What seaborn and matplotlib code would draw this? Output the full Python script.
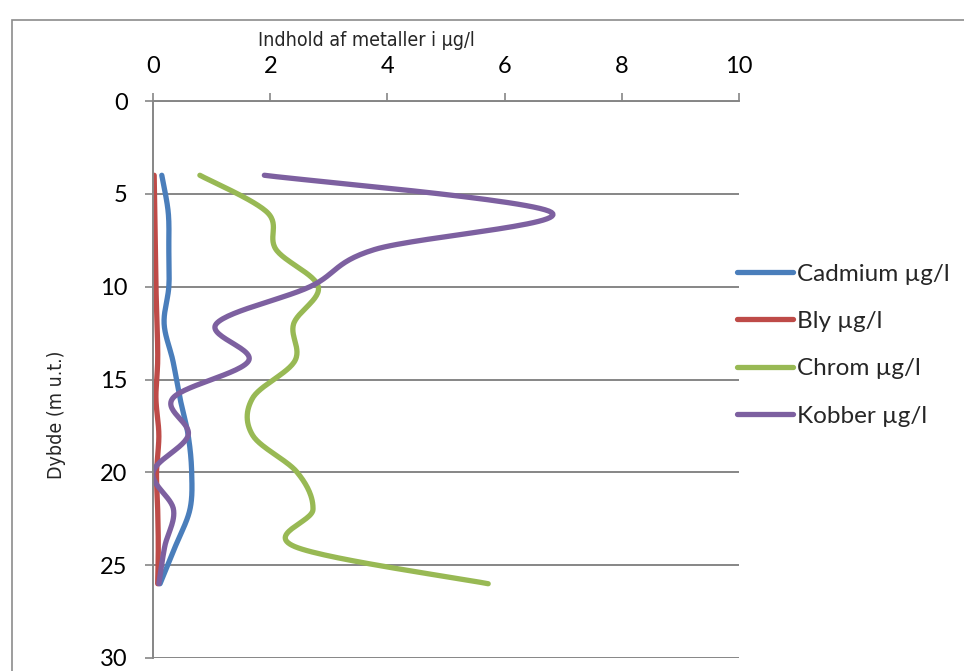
import numpy as np
import pandas as pd
import matplotlib
matplotlib.use("Agg")
import matplotlib.pyplot as plt
import seaborn as sns
from matplotlib.patches import Rectangle
from matplotlib import font_manager

# Depths (m u.t.) and metal contents (µg/l)
depth = [4, 6, 8, 10, 12, 14, 16, 18, 20, 22, 24, 26]
cadmium = [0.15, 0.26, 0.27, 0.27, 0.19, 0.34, 0.46, 0.60, 0.66, 0.63, 0.38, 0.12]
bly = [0.02, 0.03, 0.04, 0.05, 0.07, 0.08, 0.05, 0.10, 0.06, 0.08, 0.09, 0.08]
chrom = [0.80, 1.95, 2.10, 2.82, 2.40, 2.42, 1.70, 1.70, 2.46, 2.73, 2.42, 5.72]
kobber = [1.90, 6.80, 3.78, 2.68, 1.08, 1.63, 0.34, 0.60, 0.00, 0.35, 0.20, 0.10]

series = ["Cadmium µg/l", "Bly µg/l", "Chrom µg/l", "Kobber µg/l"]
colors = ["#4A7EBB", "#BE4B48", "#98B954", "#7D60A0"]


def smooth(xs, ys, n=30):
    # Excel-like smoothed line: Catmull-Rom bezier through the points
    p = np.column_stack([xs, ys]).astype(float)
    p = np.vstack([p[0], p, p[-1]])
    out = []
    t = np.linspace(0, 1, n)[:, None]
    for i in range(1, len(p) - 2):
        a, b = p[i], p[i + 1]
        c1 = a + (p[i + 1] - p[i - 1]) / 6
        c2 = b - (p[i + 2] - p[i]) / 6
        seg = ((1 - t) ** 3) * a + 3 * ((1 - t) ** 2) * t * c1 + 3 * (1 - t) * t ** 2 * c2 + t ** 3 * b
        out.append(seg if i == 1 else seg[1:])
    return np.vstack(out)


frames = []
for name, vals in zip(series, [cadmium, bly, chrom, kobber]):
    s = smooth(vals, depth)
    frames.append(pd.DataFrame({"x": s[:, 0], "y": s[:, 1], "serie": name}))
df = pd.concat(frames, ignore_index=True)

sns.set_theme(style="white")
plt.rcParams["font.family"] = ["DejaVu Sans"]

# narrow font for the axis titles if one is around
narrow = {"family": "DejaVu Sans", "stretch": "condensed"}
for fam in ["Liberation Sans Narrow", "Arial Narrow"]:
    try:
        font_manager.findfont(font_manager.FontProperties(family=fam), fallback_to_default=False)
        narrow = {"family": fam, "stretch": "normal"}
        break
    except Exception:
        pass
calibri_like = ["Lato", "DejaVu Sans"]

fig = plt.figure(figsize=(9.64, 6.71), dpi=100)
fig.patches.append(Rectangle((12 / 964, -0.1), 2, 1.1 - 20 / 671, transform=fig.transFigure,
                             fill=False, edgecolor="#8c8c8c", linewidth=1.2))
ax = fig.add_axes([153 / 964, 1 - 658 / 671, (739 - 153) / 964, (658 - 101) / 671])

for name, c in zip(series, colors):
    sub = df[df["serie"] == name]
    sns.lineplot(x=sub["x"], y=sub["y"], sort=False, estimator=None, color=c,
                 linewidth=3.8, ax=ax, label=name, solid_capstyle="round")

ax.set_xlim(0, 10)
ax.set_ylim(30, 0)
ax.set_xticks([0, 2, 4, 6, 8, 10])
ax.set_yticks([0, 5, 10, 15, 20, 25, 30])
ax.xaxis.tick_top()
ax.tick_params(axis="x", which="both", top=True, bottom=False, direction="out", length=5.8,
               width=1.2, color="#868686", labelsize=17, pad=11.5)
ax.tick_params(axis="y", left=True, direction="out", length=5.8, width=1.2, color="#868686",
               labelsize=17, pad=12.5)
for lab in ax.get_xticklabels() + ax.get_yticklabels():
    lab.set_color("black")
    lab.set_family(calibri_like)

ax.yaxis.grid(True, color="#868686", linewidth=1.4)
ax.xaxis.grid(False)
for side in ["right", "bottom"]:
    ax.spines[side].set_visible(False)
for side in ["left", "top"]:
    ax.spines[side].set_color("#868686")
    ax.spines[side].set_linewidth(1.4)
ax.set_xlabel("")
ax.set_ylabel("")

fig.text(366 / 964, 1 - 40 / 671, "Indhold af metaller i µg/l", ha="center", va="center",
         fontsize=14, family=narrow["family"], stretch=narrow["stretch"])
fig.text(57 / 964, 1 - 415 / 671, "Dybde (m u.t.)", ha="center", va="center", rotation=90,
         fontsize=14, family=narrow["family"], stretch=narrow["stretch"])

leg = ax.legend(loc="upper left", bbox_to_anchor=(727 / 964, 1 - 254 / 671),
                bbox_transform=fig.transFigure, frameon=False, handlelength=2.3,
                handletextpad=0.16, labelspacing=1.08, borderaxespad=0,
                prop={"family": calibri_like, "size": 17.5})
for line in leg.get_lines():
    line.set_linewidth(3.8)

fig.savefig("out.png", dpi=100)
